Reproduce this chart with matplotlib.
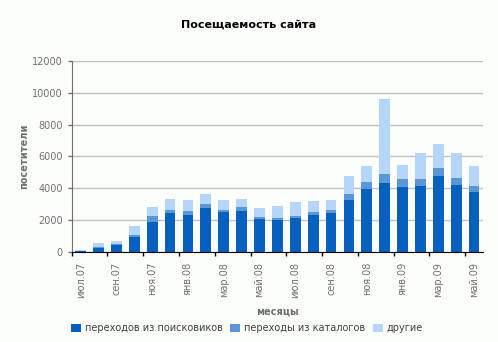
import matplotlib
matplotlib.use("Agg")
from matplotlib import pyplot as plt
import numpy as np

# data
months = ["июл.07", "авг.07", "сен.07", "окт.07", "ноя.07", "дек.07",
          "янв.08", "фев.08", "мар.08", "апр.08", "май.08", "июн.08",
          "июл.08", "авг.08", "сен.08", "окт.08", "ноя.08", "дек.08",
          "янв.09", "фев.09", "мар.09", "апр.09", "май.09"]
search = [60, 270, 460, 960, 1900, 2470, 2340, 2780, 2530, 2590, 2090, 2030,
          2150, 2340, 2470, 3280, 3970, 4350, 4100, 4160, 4790, 4220, 3780]
catalogs = [20, 65, 60, 125, 380, 190, 250, 250, 125, 250, 125, 125,
            125, 190, 190, 380, 440, 560, 500, 440, 500, 440, 380]
others = [50, 250, 190, 565, 560, 690, 690, 630, 630, 500, 565, 750,
          880, 690, 630, 1130, 1000, 4700, 880, 1630, 1500, 1570, 1250]

c_search = "#0560BE"
c_cat = "#5B96D6"
c_other = "#B5D5FA"
grey = "#707070"
bg = "#FCFEFC"

plt.rcParams['font.family'] = ['DejaVu Sans']

fig = plt.figure(figsize=(4.98, 3.42), dpi=100, facecolor=bg)
ax = fig.add_axes([0.144, 0.263, 0.826, 0.559], facecolor=bg)

x = np.arange(len(months))
s = np.array(search)
c = np.array(catalogs)
o = np.array(others)
ax.bar(x, s, width=0.6, color=c_search, label="переходов из поисковиков", zorder=2)
ax.bar(x, c, width=0.6, bottom=s, color=c_cat, label="переходы из каталогов", zorder=2)
ax.bar(x, o, width=0.6, bottom=s + c, color=c_other, label="другие", zorder=2)

ax.set_xlim(-0.5, len(months) - 0.5)
ax.set_ylim(0, 12000)
ax.set_yticks(range(0, 12001, 2000))
ax.yaxis.grid(True, color="#C0C0C0", linewidth=1, zorder=0)
ax.tick_params(axis="y", colors=grey, labelsize=7, length=3, width=1)

# ticks between category pairs, labels on every other month
ax.set_xticks(np.arange(-0.5, len(months), 2))
ax.set_xticklabels([])
ax.set_xticks(x[::2], minor=True)
ax.set_xticklabels(months[::2], minor=True, rotation=90, fontsize=7, color=grey)
ax.tick_params(axis="x", which="major", length=3, width=1, color="black")
ax.tick_params(axis="x", which="minor", length=0, pad=7)

for side in ("top", "right"):
    ax.spines[side].set_visible(False)
ax.spines["left"].set_color(grey)
ax.spines["bottom"].set_color("black")

fig.text(0.5, 1 - 25 / 342, "Посещаемость сайта", fontsize=8, fontweight="bold",
         ha="center", va="center")
ax.set_xlabel("месяцы", fontsize=7, fontweight="bold", color=grey, labelpad=6)
ax.set_ylabel("посетители", fontsize=7, fontweight="bold", color=grey, labelpad=2)

fig.legend(loc="lower center", bbox_to_anchor=(0.496, 0.0), ncol=3, frameon=False,
           fontsize=7, labelcolor="#404040", handlelength=1.0, handleheight=0.8,
           handletextpad=0.4, columnspacing=0.8)

fig.savefig("out.png", dpi=100, facecolor=fig.get_facecolor())
